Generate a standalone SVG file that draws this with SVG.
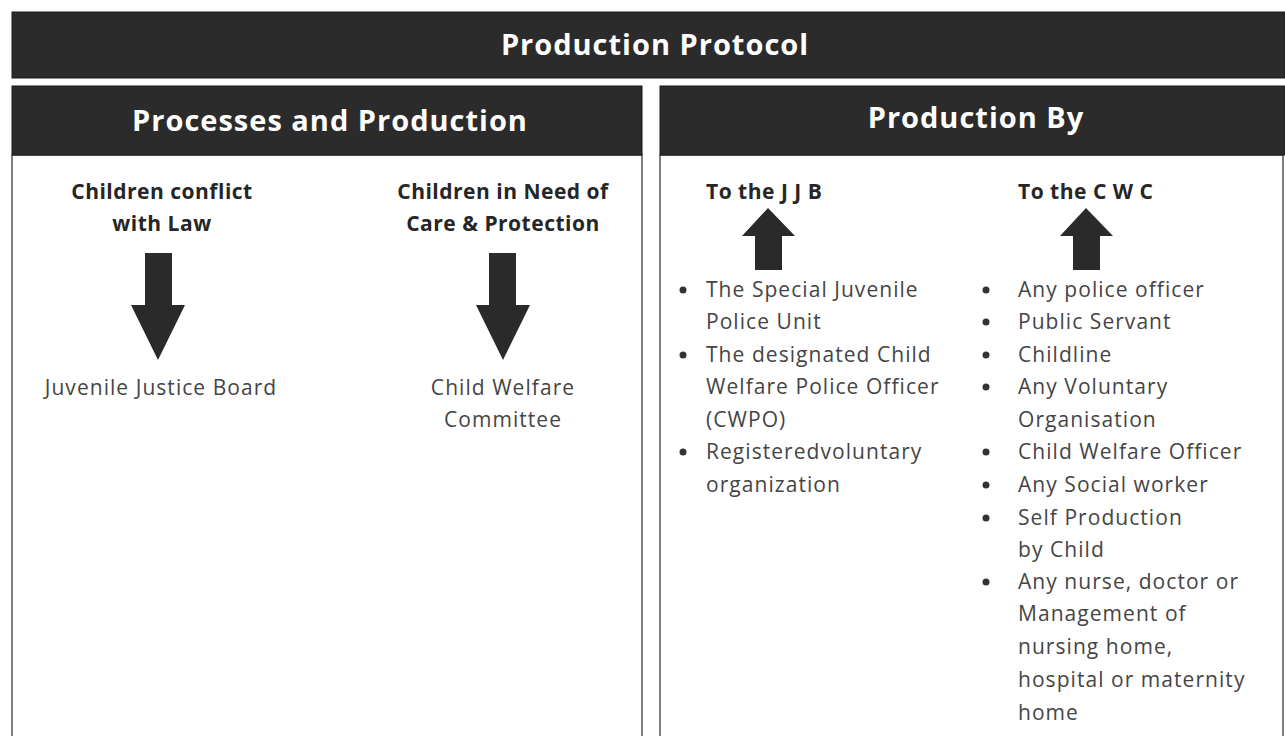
<svg xmlns="http://www.w3.org/2000/svg" width="1285" height="736" viewBox="0 0 1285 736">
  <style>
    .bar { fill: #2b2b2b; stroke: #1a1a1a; stroke-width: 1; }
    .panel { fill: #ffffff; stroke: #555555; stroke-width: 1.5; }
    .hd { font-family: "Open Sans", Lato, sans-serif; font-weight: bold; fill: #ffffff; text-anchor: middle; letter-spacing: 1px; }
    .lbl { font-family: "Open Sans", Lato, sans-serif; font-weight: bold; font-size: 21px; fill: #262626; letter-spacing: 0.5px; }
    .txt { font-family: "Open Sans", Lato, sans-serif; font-size: 21px; fill: #454545; letter-spacing: 1.05px; }
    .mid { text-anchor: middle; }
    .arrow { fill: #2a2a2a; }
    .dot { fill: #333333; }
  </style>
  <rect width="1285" height="736" fill="#ffffff"/>

  <!-- title bar -->
  <g id="title">
    <rect class="bar" x="12" y="12" width="1273" height="66"/>
    <text class="hd" x="655" y="55" font-size="29" letter-spacing="1.2">Production Protocol</text>
  </g>

  <!-- left column -->
  <g id="processes">
    <rect class="panel" x="12" y="155" width="630" height="590"/>
    <rect class="bar" x="12" y="86" width="630" height="69"/>
    <text class="hd" x="330" y="131" font-size="29">Processes and Production</text>
  </g>

  <g id="cicl">
    <text class="lbl mid" x="162" y="199">Children conflict</text>
    <text class="lbl mid" x="162" y="231">with Law</text>
  </g>
  <g id="jjb">
    <text class="txt mid" x="161" y="395">Juvenile Justice Board</text>
  </g>
  <g id="cncp">
    <text class="lbl mid" x="503" y="199">Children in Need of</text>
    <text class="lbl mid" x="503" y="231">Care &amp; Protection</text>
  </g>
  <g id="cwc">
    <text class="txt mid" x="503" y="395">Child Welfare</text>
    <text class="txt mid" x="503" y="427">Committee</text>
  </g>

  <!-- right column -->
  <g id="production-by">
    <rect class="panel" x="660" y="155" width="623" height="590"/>
    <rect class="bar" x="660" y="86" width="625" height="69"/>
    <text class="hd" x="976" y="128" font-size="29">Production By</text>
  </g>

  <g id="to-jjb">
    <text class="lbl" x="706" y="199">To the J J B</text>
    <g class="txt">
      <text x="706" y="297">The Special Juvenile</text>
      <text x="706" y="329">Police Unit</text>
      <text x="706" y="362">The designated Child</text>
      <text x="706" y="394">Welfare Police Officer</text>
      <text x="706" y="427">(CWPO)</text>
      <text x="706" y="459">Registeredvoluntary</text>
      <text x="706" y="492">organization</text>
    </g>
    <g class="dot">
      <circle cx="683" cy="290" r="3.5"/>
      <circle cx="683" cy="355" r="3.5"/>
      <circle cx="683" cy="452" r="3.5"/>
    </g>
  </g>

  <g id="to-cwc">
    <text class="lbl" x="1018" y="199">To the C W C</text>
    <g class="txt">
      <text x="1018" y="297">Any police officer</text>
      <text x="1018" y="329">Public Servant</text>
      <text x="1018" y="362">Childline</text>
      <text x="1018" y="394">Any Voluntary</text>
      <text x="1018" y="427">Organisation</text>
      <text x="1018" y="459">Child Welfare Officer</text>
      <text x="1018" y="492">Any Social worker</text>
      <text x="1018" y="525">Self Production</text>
      <text x="1018" y="557">by Child</text>
      <text x="1018" y="589">Any nurse, doctor or</text>
      <text x="1018" y="621">Management of</text>
      <text x="1018" y="654">nursing home,</text>
      <text x="1018" y="687">hospital or maternity</text>
      <text x="1018" y="720">home</text>
    </g>
    <g class="dot">
      <circle cx="986" cy="290" r="3.5"/>
      <circle cx="986" cy="322" r="3.5"/>
      <circle cx="986" cy="355" r="3.5"/>
      <circle cx="986" cy="387" r="3.5"/>
      <circle cx="986" cy="452" r="3.5"/>
      <circle cx="986" cy="485" r="3.5"/>
      <circle cx="986" cy="518" r="3.5"/>
      <circle cx="986" cy="582" r="3.5"/>
    </g>
  </g>

  <!-- block arrows -->
  <g id="connectors">
    <polygon class="arrow" points="145,253 172,253 172,305 185,305 158,360 131,305 145,305"/>
    <polygon class="arrow" points="489,253 516,253 516,305 530,305 503,360 476,305 489,305"/>
    <polygon class="arrow" points="768,208 795,236 782,236 782,270 755,270 755,236 742,236"/>
    <polygon class="arrow" points="1086,208 1113,236 1100,236 1100,270 1073,270 1073,236 1060,236"/>
  </g>
</svg>
